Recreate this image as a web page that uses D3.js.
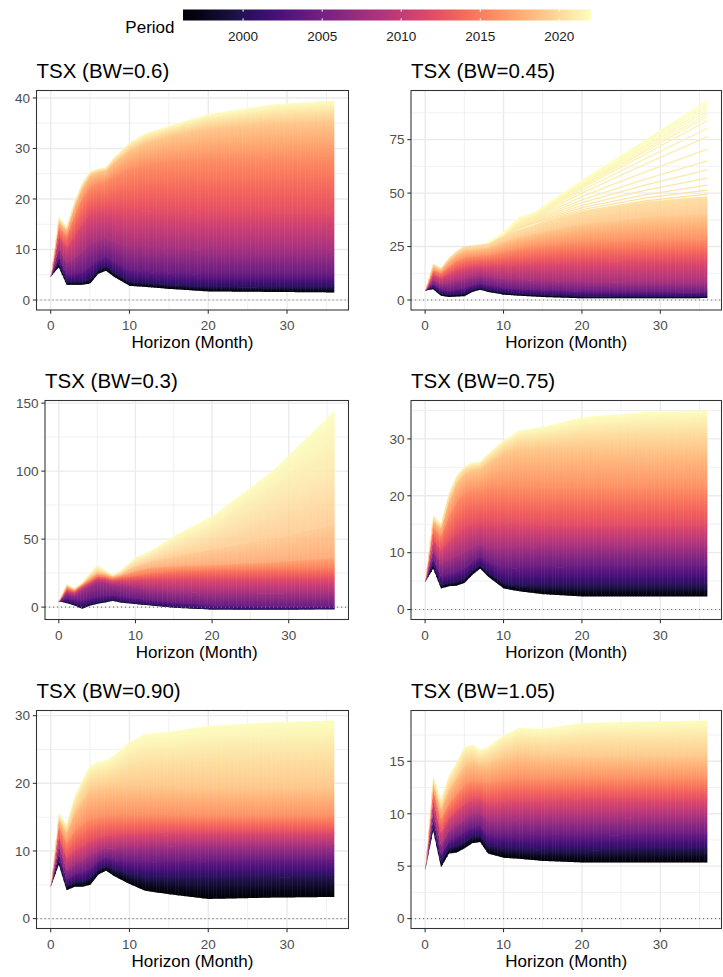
<!DOCTYPE html>
<html><head><meta charset="utf-8">
<script src="https://cdn.jsdelivr.net/npm/d3@7"></script>
<style>
body{margin:0;background:#fff}
text{font-family:"Liberation Sans",Arial,Helvetica,sans-serif}
</style>
</head><body>
<svg id="chart" width="723" height="977"></svg>
<script>
// ---------------- DATA ----------------
const horizons = [0,1,2,3,4,5,6,7,8,10,12,15,20,28,36];
const legendYears = [2000,2005,2010,2015,2020];
const periodRange = [1996.2, 2022.0];

const periodsStd = [1996.2, 2000, 2004, 2008, 2012, 2016, 2019, 2022];

// TSX (BW=0.6)  — one row per period in periodsStd, values at `horizons`
const bw060 = [
 [4.7, 6.5, 3.0, 3.0, 3.0, 3.3, 5.2, 5.8, 4.6, 2.8, 2.6, 2.2, 1.7, 1.6, 1.5],
 [4.7, 7.4, 3.6, 3.6, 3.6, 4.1, 6.0, 6.7, 5.5, 3.6, 3.4, 3.0, 2.6, 2.5, 2.5],
 [4.7, 8.6, 5.0, 5.2, 5.6, 6.8, 7.9, 8.5, 7.6, 5.9, 5.6, 5.3, 5.0, 5.0, 5.0],
 [4.7,10.3, 7.5, 8.3, 9.8,11.3,11.8,12.2,11.6,10.6,10.5,10.2,10.0,10.0,10.0],
 [4.7,12.7,10.5,12.8,15.3,17.3,17.6,17.9,17.8,17.5,17.6,17.5,17.3,17.2,17.2],
 [4.7,14.6,12.8,16.8,20.3,22.4,23.2,23.5,24.6,26.0,26.8,27.4,28.0,28.3,28.5],
 [4.7,15.8,13.9,18.7,22.4,24.8,25.4,25.7,27.3,29.7,31.2,32.5,34.0,35.0,35.4],
 [4.7,16.5,14.5,19.5,23.2,25.5,26.0,26.3,28.2,31.2,33.0,34.5,36.8,38.7,39.5]
];

// TSX (BW=0.45)
const periodsBw045 = [1996.2, 2000, 2004, 2008, 2012, 2016, 2019, 2020.3];
const bw045 = [
 [4.5, 5.0, 2.0, 1.4, 1.6, 1.8, 3.8, 4.8, 3.8, 2.5, 2.0, 1.4, 0.8, 0.8, 0.9],
 [4.5, 6.0, 3.2, 2.5, 2.7, 3.0, 4.8, 5.7, 4.8, 3.5, 3.0, 2.4, 1.8, 1.7, 1.7],
 [4.5, 7.5, 5.0, 4.5, 5.0, 5.5, 7.0, 7.8, 7.0, 5.8, 5.2, 4.6, 4.0, 3.8, 3.6],
 [4.5, 9.5, 7.5, 8.0, 9.0, 9.8,11.0,11.5,11.0,10.0, 9.5, 9.0, 8.5, 8.2, 8.0],
 [4.5,12.0,10.5,12.5,14.0,15.2,16.0,16.3,16.3,16.5,17.0,17.5,18.0,18.3,18.5],
 [4.5,14.2,12.8,16.0,18.5,20.0,20.5,20.8,21.0,22.5,24.0,25.5,27.0,28.0,28.5],
 [4.5,15.8,14.3,18.6,21.5,23.5,23.8,24.2,24.7,27.3,29.5,32.0,35.5,38.5,40.0],
 [4.5,17.0,15.0,19.7,22.9,25.2,25.5,26.0,26.6,30.0,33.0,36.5,41.5,46.0,48.5]
];
// individual diverging lines of the latest periods (BW=0.45)
const fanHorizons = [8, 10, 12, 14, 20, 28, 36];
const fanPeriodsBw045 = [2020.4,2020.5,2020.6,2020.7,2020.8,2020.9,2021.0,2021.1,2021.2,2021.3,2021.4,2021.5,2021.6,2021.7,2021.8,2021.9,2022.0];
const fanBw045 = [
 [26.6,30.0,33.5,36.0,41.5,46.3,49.5],
 [26.6,30.1,33.8,36.3,42.3,47.6,51.4],
 [26.6,30.2,34.0,36.6,43.2,49.2,53.7],
 [26.6,30.3,34.3,37.0,44.3,51.3,57.0],
 [26.6,30.4,34.6,37.4,45.5,53.7,60.8],
 [26.6,30.5,35.0,37.8,46.8,56.4,65.1],
 [26.6,30.6,35.4,38.3,48.3,59.8,70.6],
 [26.7,30.7,35.8,38.8,50.0,63.4,76.4],
 [26.7,30.8,36.2,39.2,51.2,65.9,80.3],
 [26.7,30.9,36.6,39.6,52.3,68.1,83.9],
 [26.7,31.0,37.0,39.9,53.0,69.4,85.8],
 [26.7,31.1,37.3,40.1,53.5,70.3,87.1],
 [26.7,31.2,37.6,40.3,54.0,71.3,88.5],
 [26.8,31.3,37.9,40.5,54.5,72.1,89.7],
 [26.8,31.4,38.1,40.7,55.0,73.0,91.0],
 [26.8,31.5,38.3,40.8,55.3,73.7,92.2],
 [26.8,31.5,38.5,40.9,55.7,74.3,93.3]
];

// TSX (BW=0.3)
const periodsBw030 = [1996.2, 2000, 2004, 2008, 2012, 2015, 2017, 2019, 2021, 2022];
const bw030 = [
 [4.5, 2.9, 1.2,-1.2, 1.0, 2.4, 3.4, 4.6, 3.4, 2.2, 1.2,-0.5,-1.8,-1.8,-1.5],
 [4.5, 3.8, 2.2, 0.5, 2.2, 3.5, 4.5, 5.5, 4.3, 3.0, 2.0, 0.3,-1.2,-1.3,-1.2],
 [4.5, 6.5, 5.5, 5.0, 6.5, 8.0, 8.5, 9.0, 8.0, 6.5, 5.2, 3.5, 1.5, 0.5, 0.5],
 [4.5,10.5, 9.0,12.5,15.5,18.5,18.0,16.5,16.0,14.5,13.0,11.5,10.5,10.2,10.0],
 [4.5,12.5,11.0,15.0,18.0,21.5,21.0,19.5,20.0,20.5,20.8,21.0,21.0,21.0,21.0],
 [4.5,14.0,12.0,16.0,19.5,23.0,22.5,21.0,22.0,23.5,25.0,26.5,27.5,28.2,28.5],
 [4.5,15.0,12.8,16.7,20.8,24.5,23.8,22.0,23.3,26.5,28.8,30.0,31.0,33.0,36.0],
 [4.6,16.0,13.4,17.3,22.2,26.2,25.0,22.8,24.5,30.0,33.5,37.0,42.0,50.0,60.0],
 [4.7,16.7,13.8,17.8,23.8,29.0,26.5,23.4,26.0,34.0,39.0,47.0,58.0,85.0,105.0],
 [4.7,17.1,14.0,18.3,24.9,31.0,27.4,23.7,26.9,36.6,41.5,52.3,66.9,100.7,144.6]
];

// TSX (BW=0.75)
const bw075 = [
 [4.9, 7.2, 3.7, 4.1, 4.2, 4.7, 6.1, 7.2, 5.8, 3.7, 3.2, 2.7, 2.3, 2.3, 2.3],
 [4.9, 8.0, 4.3, 4.7, 4.9, 5.4, 6.8, 7.8, 6.5, 4.6, 4.3, 4.2, 4.2, 4.2, 4.2],
 [4.9, 9.0, 5.8, 6.2, 6.6, 7.2, 8.4, 9.2, 8.3, 7.2, 7.3, 7.4, 7.5, 7.5, 7.5],
 [4.9,10.5, 8.0, 8.8, 9.5,10.2,11.0,11.5,11.0,10.8,10.9,11.0,11.0,11.0,11.0],
 [4.9,12.3,10.5,12.2,13.5,14.5,15.0,15.3,15.3,15.2,15.1,15.0,15.0,15.0,15.0],
 [4.9,14.5,13.0,16.5,19.0,20.5,21.0,21.0,21.5,21.6,21.6,21.5,21.5,21.5,21.5],
 [4.9,15.8,14.4,19.2,22.3,24.0,24.6,24.8,25.8,27.6,28.3,28.4,28.5,28.5,28.5],
 [4.9,16.6,15.1,20.4,23.6,25.2,25.9,26.0,27.4,29.8,31.5,32.1,33.8,34.7,35.0]
];

// TSX (BW=0.90)
const bw090 = [
 [4.8, 8.0, 4.2, 4.7, 4.7, 5.0, 6.5, 7.1, 6.3, 5.1, 4.1, 3.6, 2.9, 3.1, 3.2],
 [4.8, 8.7, 4.8, 5.4, 5.5, 6.0, 7.2, 7.8, 7.3, 6.6, 6.1, 6.0, 6.0, 6.1, 6.2],
 [4.8, 9.6, 5.8, 6.6, 6.9, 7.4, 8.5, 9.0, 8.7, 8.4, 8.3, 8.4, 8.5, 8.6, 8.6],
 [4.8,10.8, 7.2, 8.2, 8.6, 9.4,10.0,10.4,10.4,10.5,10.6,10.7,10.8,10.8,10.8],
 [4.8,12.2, 9.0,10.2,10.8,11.6,12.0,12.3,12.4,12.6,12.7,12.8,12.8,12.8,12.8],
 [4.8,13.8,11.2,13.0,14.0,14.8,15.0,15.2,15.3,15.3,15.3,15.3,15.2,15.2,15.2],
 [4.8,14.9,12.8,15.8,17.5,19.0,19.2,19.4,19.5,19.6,19.6,19.6,19.5,19.5,19.5],
 [4.8,15.6,13.9,18.0,20.5,22.6,23.2,23.4,24.1,26.1,27.3,27.6,28.5,29.0,29.3]
];

// TSX (BW=1.05)
const bw105 = [
 [4.7, 8.4, 4.9, 6.2, 6.3, 6.7, 7.2, 7.3, 6.2, 5.8, 5.7, 5.5, 5.35,5.35,5.35],
 [4.7, 8.9, 5.4, 6.7, 6.9, 7.3, 7.8, 7.9, 6.9, 6.7, 6.6, 6.5, 6.5, 6.6, 6.6],
 [4.7, 9.5, 6.1, 7.4, 7.8, 8.3, 8.7, 8.8, 8.0, 7.9, 7.9, 7.9, 7.9, 8.0, 8.0],
 [4.7,10.3, 7.0, 8.4, 8.9, 9.5, 9.9,10.0, 9.4, 9.4, 9.5, 9.5, 9.5, 9.6, 9.6],
 [4.7,11.3, 8.2, 9.6,10.3,11.0,11.4,11.4,11.0,11.2,11.3,11.3,11.4,11.4,11.4],
 [4.7,12.3, 9.5,11.0,11.9,12.8,13.1,13.0,12.9,13.2,13.4,13.3,13.4,13.4,13.4],
 [4.7,13.0,10.5,12.4,13.5,14.7,15.0,14.7,14.8,15.4,15.7,15.5,15.5,15.5,15.5],
 [4.7,13.6,11.3,13.6,14.9,16.4,16.6,16.1,16.4,17.5,18.2,18.1,18.65,18.8,18.9]
];

const xTicks = [0,10,20,30];

// ---------------- LAYOUT / STYLE ----------------
const panels = [
 {title:"TSX (BW=0.6)",  periods:periodsStd,   curves:bw060, yTicks:[0,10,20,30,40], box:[36.5,348.5,90.5,310]},
 {title:"TSX (BW=0.45)", periods:periodsBw045, curves:bw045, yTicks:[0,25,50,75],    box:[411,721.5,90.5,310],
   fanPeriods:fanPeriodsBw045, fan:fanBw045, bandOpacity:[1,1,1,1,1,1,0.92]},
 {title:"TSX (BW=0.3)",  periods:periodsBw030, curves:bw030, yTicks:[0,50,100,150],  box:[45,348.5,400.5,619.5],
   bandOpacity:[1,1,1,1,1,1,0.9,0.86,0.93]},
 {title:"TSX (BW=0.75)", periods:periodsStd,   curves:bw075, yTicks:[0,10,20,30],    box:[411,721.5,400.5,619.5]},
 {title:"TSX (BW=0.90)", periods:periodsStd,   curves:bw090, yTicks:[0,10,20,30],    box:[36.5,348.5,710.5,928.5]},
 {title:"TSX (BW=1.05)", periods:periodsStd,   curves:bw105, yTicks:[0,5,10,15],     box:[411,721.5,710.5,928.5]}
];

const svg = d3.select("#chart");
const defs = svg.append("defs");
const color = d3.scaleSequential(d3.interpolateMagma).domain(periodRange);

// ---------------- LEGEND ----------------
const legX = d3.scaleLinear().domain(periodRange).range([183, 591]);
const lg = defs.append("linearGradient").attr("id","legGrad").attr("x1",0).attr("x2",1).attr("y1",0).attr("y2",0);
d3.range(0, 1.0001, 0.05).forEach(f => {
  lg.append("stop").attr("offset", f).attr("stop-color", color(periodRange[0] + f*(periodRange[1]-periodRange[0])));
});
svg.append("rect").attr("x",183).attr("y",9.5).attr("width",408).attr("height",11).attr("fill","url(#legGrad)");
legendYears.forEach(yr => {
  const px = legX(yr);
  svg.append("line").attr("x1",px).attr("x2",px).attr("y1",9.5).attr("y2",11.7).attr("stroke","#fff").attr("stroke-width",1);
  svg.append("line").attr("x1",px).attr("x2",px).attr("y1",18.3).attr("y2",20.5).attr("stroke","#fff").attr("stroke-width",1);
  svg.append("text").attr("x",px).attr("y",41).attr("text-anchor","middle").attr("font-size",13.5).attr("fill","#1a1a1a").text(yr);
});
svg.append("text").attr("x",174.5).attr("y",33).attr("text-anchor","end").attr("font-size",17).attr("fill","#000").text("Period");

// ---------------- PANELS ----------------
let gradN = 0;
function bandGradient(pLo, pHi){
  const id = "bg" + (gradN++);
  const g = defs.append("linearGradient").attr("id", id).attr("x1",0).attr("y1",0).attr("x2",0).attr("y2",1);
  const n = 6;
  for (let j=0;j<=n;j++){
    const f = j/n;
    g.append("stop").attr("offset", f).attr("stop-color", color(pHi + (pLo-pHi)*f));
  }
  return id;
}

panels.forEach(p => {
  const [bx0,bx1,by0,by1] = p.box;
  const g = svg.append("g");
  const x = d3.scaleLinear().domain([-1.8, 37.8]).range([bx0, bx1]);
  const vals = p.curves.flat().concat(p.fan ? p.fan.flat() : []);
  const lo = Math.min(0, d3.min(vals)), hi = Math.max(0, d3.max(vals));
  const pad = (hi-lo)*0.05;
  const y = d3.scaleLinear().domain([lo-pad, hi+pad]).range([by1, by0]);
  const [d0,d1] = y.domain();

  // grid
  const ystep = p.yTicks[1]-p.yTicks[0];
  const yMinor = [];
  for (let v = p.yTicks[0]-ystep/2; v <= d1; v += ystep) if (v >= d0) yMinor.push(v);
  const xMinor = [5,15,25,35];
  const gg = g.append("g");
  yMinor.forEach(v => gg.append("line").attr("x1",bx0).attr("x2",bx1).attr("y1",y(v)).attr("y2",y(v)).attr("stroke","#ebebeb").attr("stroke-width",0.7));
  xMinor.forEach(v => gg.append("line").attr("y1",by0).attr("y2",by1).attr("x1",x(v)).attr("x2",x(v)).attr("stroke","#ebebeb").attr("stroke-width",0.7));
  p.yTicks.forEach(v => gg.append("line").attr("x1",bx0).attr("x2",bx1).attr("y1",y(v)).attr("y2",y(v)).attr("stroke","#ebebeb").attr("stroke-width",1.4));
  xTicks.forEach(v => gg.append("line").attr("y1",by0).attr("y2",by1).attr("x1",x(v)).attr("x2",x(v)).attr("stroke","#ebebeb").attr("stroke-width",1.4));

  // bands between consecutive period curves (thin slices, each with a vertical gradient)
  const gb = g.append("g");
  for (let i=0;i<p.periods.length-1;i++){
    const id = bandGradient(p.periods[i], p.periods[i+1]);
    const op = p.bandOpacity ? p.bandOpacity[i] : 1;
    const gi = gb.append("g").attr("opacity", op);
    const lc = p.curves[i], uc = p.curves[i+1];
    for (let k=0;k<horizons.length-1;k++){
      const xa = x(horizons[k]), xb = x(horizons[k+1]);
      const la = y(lc[k]), lb = y(lc[k+1]), ua = y(uc[k]), ub = y(uc[k+1]);
      if (Math.abs(la-ua) < 0.05 && Math.abs(lb-ub) < 0.05) continue;
      const n = Math.max(1, Math.round((xb-xa)/1.6));
      for (let s=0;s<n;s++){
        const f0 = s/n, f1 = (s+1)/n;
        const X0 = xa+(xb-xa)*f0;
        const last = (k===horizons.length-2 && s===n-1);
        const X1 = xa+(xb-xa)*f1 + (last ? 0 : 0.5);
        const ext = i>0 ? 0.6 : 0;
        const L0 = la+(lb-la)*f0 + ext, L1 = la+(lb-la)*f1 + ext;
        const U0 = ua+(ub-ua)*f0, U1 = ua+(ub-ua)*f1;
        if (Math.abs(L0-U0) < 0.05 && Math.abs(L1-U1) < 0.05) continue;
        gi.append("polygon")
          .attr("points", `${X0},${L0} ${X1},${L1} ${X1},${U1} ${X0},${U0}`)
          .attr("fill", `url(#${id})`);
      }
    }
  }

  // individual late-period lines
  if (p.fan){
    const line = d3.line().x((d,j)=>x(fanHorizons[j])).y(d=>y(d));
    p.fan.forEach((row,j) => {
      g.append("path").attr("d", line(row)).attr("fill","none")
        .attr("stroke", color(p.fanPeriods[j])).attr("stroke-width",1.3);
    });
  }

  // zero reference line
  g.append("line").attr("x1",bx0).attr("x2",bx1).attr("y1",y(0)).attr("y2",y(0))
    .attr("stroke","#777").attr("stroke-width",1.1).attr("stroke-dasharray","1.1,2.9");

  // border
  g.append("rect").attr("x",bx0).attr("y",by0).attr("width",bx1-bx0).attr("height",by1-by0)
    .attr("fill","none").attr("stroke","#333").attr("stroke-width",1.07);

  // axes ticks + labels
  xTicks.forEach(v => {
    g.append("line").attr("x1",x(v)).attr("x2",x(v)).attr("y1",by1).attr("y2",by1+3.7).attr("stroke","#333").attr("stroke-width",1.07);
    g.append("text").attr("x",x(v)).attr("y",by1+20).attr("text-anchor","middle").attr("font-size",13.5).attr("fill","#4d4d4d").text(v);
  });
  p.yTicks.filter(v => v>=d0 && v<=d1).forEach(v => {
    g.append("line").attr("x1",bx0-3.7).attr("x2",bx0).attr("y1",y(v)).attr("y2",y(v)).attr("stroke","#333").attr("stroke-width",1.07);
    g.append("text").attr("x",bx0-6.5).attr("y",y(v)+4.8).attr("text-anchor","end").attr("font-size",13.5).attr("fill","#4d4d4d").text(v);
  });

  // titles
  g.append("text").attr("x",(bx0+bx1)/2).attr("y",by1+38.3).attr("text-anchor","middle").attr("font-size",17).attr("fill","#000").text("Horizon (Month)");
  g.append("text").attr("x",bx0).attr("y",by0-13).attr("font-size",20.5).attr("fill","#000").text(p.title);
});
</script>
</body></html>
